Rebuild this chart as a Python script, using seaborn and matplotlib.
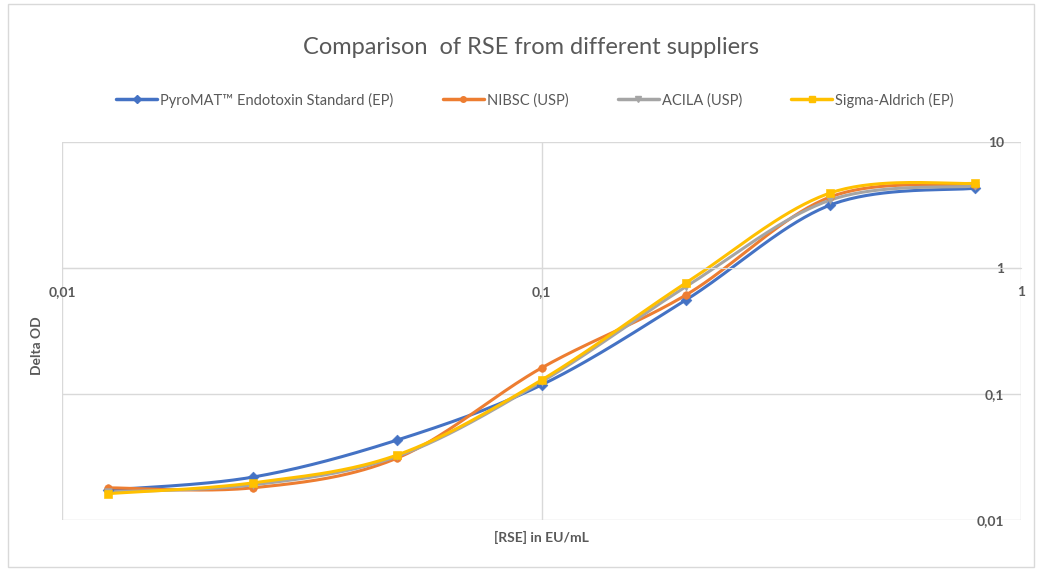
import numpy as np
import matplotlib
matplotlib.use('Agg')
import matplotlib.pyplot as plt
import seaborn as sns
from matplotlib.lines import Line2D
from matplotlib.patches import Rectangle
from matplotlib.ticker import NullLocator

# RSE concentrations (EU/mL) and Delta OD per supplier
rse_conc = [0.0125, 0.025, 0.05, 0.1, 0.2, 0.4, 0.8]
pyromat = [0.0173, 0.0219, 0.0431, 0.118, 0.557, 3.16, 4.30]
nibsc = [0.0180, 0.0180, 0.0310, 0.161, 0.610, 3.66, 4.55]
acila = [0.0167, 0.0190, 0.0320, 0.125, 0.710, 3.46, 4.47]
sigma = [0.0162, 0.0197, 0.0328, 0.129, 0.760, 3.94, 4.70]

series_names = ['PyroMAT™ Endotoxin Standard (EP)', 'NIBSC (USP)', 'ACILA (USP)', 'Sigma-Aldrich (EP)']
series_values = [pyromat, nibsc, acila, sigma]
colors = ['#4472C4', '#ED7D31', '#A5A5A5', '#FFC000']
markers = ['D', 'o', 'v', 's']

x_ticks = [0.01, 0.1, 1]
x_labels = ['0,01', '0,1', '1']
y_ticks = [0.01, 0.1, 1, 10]
y_labels = ['0,01', '0,1', '1', '10']

TEXT = '#595959'
GRID = '#D9D9D9'


def smooth_curve(xs, ys, n=40):
    """Excel-like smoothed line (Catmull-Rom bezier in log-log space)."""
    lx, ly = np.log10(xs), np.log10(ys)
    pts = np.column_stack([lx, ly])
    out = []
    t = np.linspace(0, 1, n)[:, None]
    for i in range(len(pts) - 1):
        p0 = pts[max(i - 1, 0)]
        p1, p2 = pts[i], pts[i + 1]
        p3 = pts[min(i + 2, len(pts) - 1)]
        c1 = p1 + (p2 - p0) / 6
        c2 = p2 - (p3 - p1) / 6
        seg = ((1 - t) ** 3) * p1 + 3 * ((1 - t) ** 2) * t * c1 + 3 * (1 - t) * t ** 2 * c2 + t ** 3 * p2
        out.append(seg if i == 0 else seg[1:])
    curve = np.vstack(out)
    return 10 ** curve[:, 0], 10 ** curve[:, 1]


sns.set_style('white')
plt.rcParams['font.family'] = ['Lato', 'DejaVu Sans']

fig = plt.figure(figsize=(10.42, 5.71), dpi=100)
ax = fig.add_axes([62 / 1042, 51 / 571, 959 / 1042, 378 / 571])

for name, vals, col, mk in zip(series_names, series_values, colors, markers):
    sx, sy = smooth_curve(rse_conc, vals)
    sns.lineplot(x=sx, y=sy, sort=False, estimator=None, color=col, lw=2.2, ax=ax)
    sns.scatterplot(x=rse_conc, y=vals, color=col, marker=mk, s=30, edgecolor=col, ax=ax, zorder=3)

ax.set_xscale('log')
ax.set_yscale('log')
ax.set_xlim(0.01, 1)
ax.set_ylim(0.01, 10)
ax.set_xticks(x_ticks)
ax.set_xticklabels(x_labels)
ax.set_yticks(y_ticks)
ax.set_yticklabels(y_labels)
ax.xaxis.set_minor_locator(NullLocator())
ax.yaxis.set_minor_locator(NullLocator())

ax.grid(True, color=GRID, lw=1)
for side in ['top', 'left', 'right']:
    ax.spines[side].set_visible(False)
ax.spines['bottom'].set_position(('data', 1))
ax.spines['bottom'].set_color(GRID)

ax.tick_params(axis='x', length=0, pad=13, labelsize=10, labelcolor=TEXT)
ax.tick_params(axis='y', length=0, pad=-12, labelsize=10, labelcolor=TEXT,
               left=False, right=False, labelleft=False, labelright=True)
for tick in ax.yaxis.get_major_ticks():
    tick.label2.set_horizontalalignment('right')
    tick.label2.set_fontweight('bold')
for tick in ax.xaxis.get_major_ticks():
    tick.label1.set_fontweight('bold')

ax.set_xlabel('[RSE] in EU/mL', fontsize=10, color=TEXT, fontweight='bold')
ax.xaxis.set_label_coords(0.5, -0.03)
ax.set_ylabel('Delta OD', fontsize=10, color=TEXT, fontweight='bold')
ax.yaxis.set_label_position('left')
ax.yaxis.set_label_coords(-0.02, 0.46)

fig.text(531 / 1042, 1 - 47 / 571, 'Comparison  of RSE from different suppliers',
         ha='center', va='center', fontsize=17, color=TEXT, fontweight='normal')

handles = [Line2D([], [], color=c, lw=2.5, marker=m, markersize=4) for c, m in zip(colors, markers)]
fig.legend(handles, series_names, loc='center', bbox_to_anchor=(535 / 1042, 1 - 100 / 571),
           ncol=4, frameon=False, fontsize=10.5, handlelength=2.8, handletextpad=0.2,
           columnspacing=3.4, labelcolor=TEXT)

fig.patches.append(Rectangle((8 / 1042, 4 / 571), 1026 / 1042, 563 / 571, transform=fig.transFigure,
                             fill=False, edgecolor=GRID, lw=1))

fig.savefig('out.png', dpi=100)
